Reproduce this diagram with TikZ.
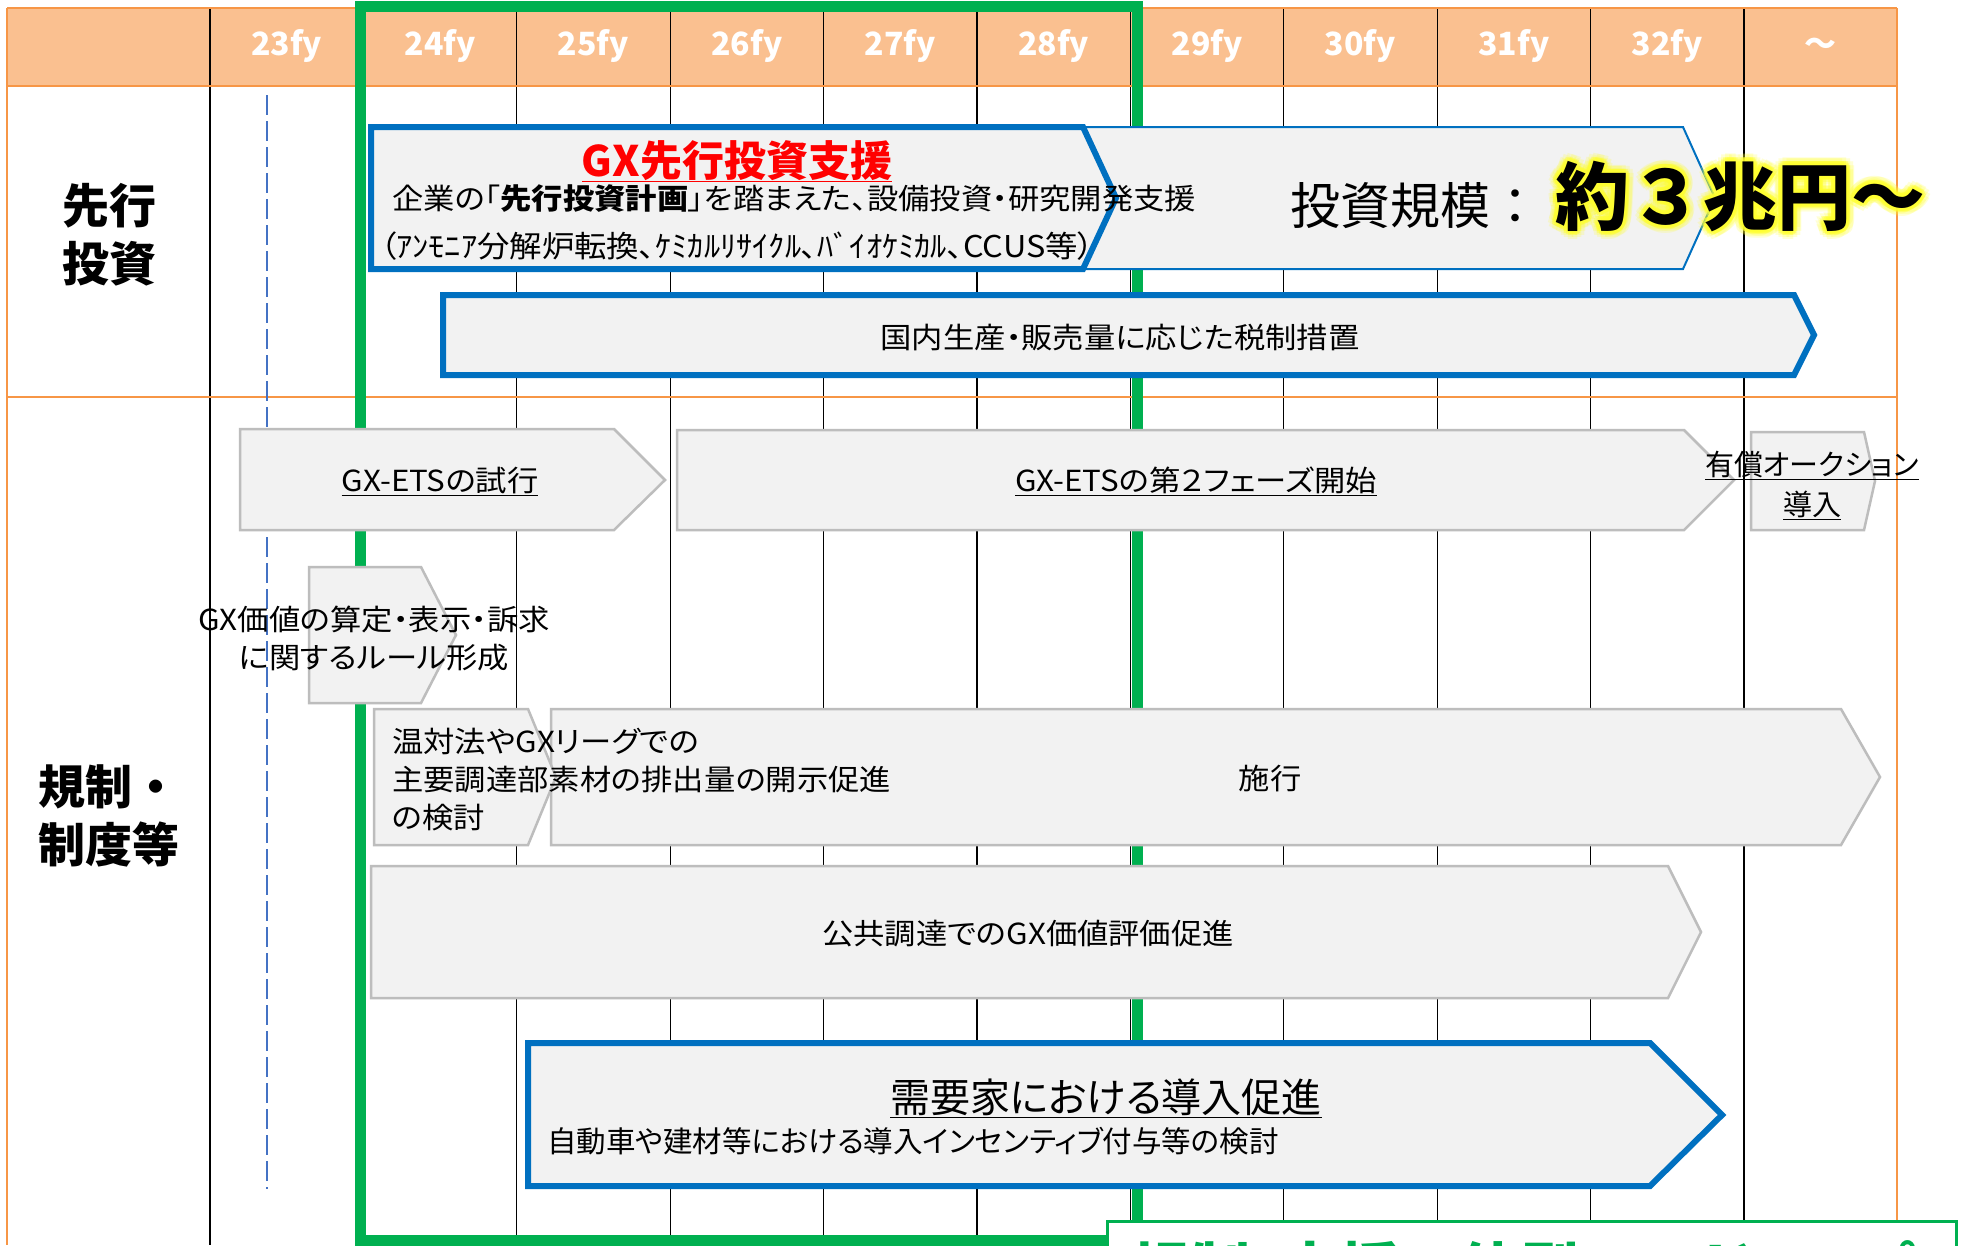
\documentclass[tikz,border=0pt]{standalone}
\usepackage{fontspec}
\setmainfont{Noto Sans CJK JP}[RawFeature=+palt]
\newfontfamily\jpfull{Noto Sans CJK JP}
\newfontfamily\jpwide{Noto Sans CJK JP}[RawFeature=+palt, FakeStretch=1.08]
\newcommand\jpsize[2]{\fontsize{#1}{#2}\selectfont}
\definecolor{headorange}{HTML}{FAC090}
\definecolor{lineorange}{HTML}{F79646}
\definecolor{gxgreen}{HTML}{00B050}
\definecolor{gxblue}{HTML}{0070C0}
\definecolor{dashblue}{HTML}{4472C4}
\definecolor{boxgray}{HTML}{F2F2F2}
\definecolor{edgegray}{HTML}{BDBDBD}
\definecolor{gxred}{HTML}{FF0000}
\definecolor{glowyellow}{HTML}{FFFF30}
\tikzset{
    gridline/.style={black, line width=1.2pt},
    orangeline/.style={lineorange, line width=2pt},
    grayarrow/.style={fill=boxgray, draw=edgegray, line width=2.5pt, line join=miter},
    bluearrow/.style={fill=boxgray, draw=gxblue, line width=6pt, line join=miter},
    thinarrow/.style={fill=boxgray, draw=gxblue, line width=2pt, line join=miter},
    txt/.style={inner sep=0pt, text=black, font=\jpwide\jpsize{29}{38}},
    headtxt/.style={inner sep=0pt, text=white, font=\jpsize{32}{38}\bfseries},
    rowlabel/.style={inner sep=0pt, text=black, font=\jpfull\jpsize{47}{58}\bfseries},
    bigtxt/.style={inner sep=0pt, font=\jpfull\jpsize{74}{80}\bfseries},
}
\begin{document}
\begin{tikzpicture}[x=1pt,y=-1pt]
    \useasboundingbox (0,0) rectangle (1972,1245);
    \fill[white] (0,0) rectangle (1972,1245);
    \fill[headorange] (7,8) rectangle (1897,86);%表头
    \foreach \i in {0,...,10}
        \draw[gridline] ({210+153.4*\i},8) -- ({210+153.4*\i},1245);%年度分隔线
    \draw[orangeline] (7,8) -- (1897,8);
    \draw[orangeline] (7,86) -- (1897,86);
    \draw[orangeline] (7,397) -- (1897,397);
    \draw[orangeline] (7,8) -- (7,1245);
    \draw[orangeline] (1897,8) -- (1897,1245);
    \foreach \lab [count=\i from 0] in {23fy,24fy,25fy,26fy,27fy,28fy,29fy,30fy,31fy,32fy,～}
        \node[headtxt, anchor=base] (fy\i) at ({286.7+153.4*\i},55) {\lab};
    \draw[gxgreen, line width=11pt] (360,6) rectangle (1137,1240);%先行5年
    \draw[dashblue, line width=1.5pt, dash pattern=on 20pt off 6pt] (267,95) -- (267,1189);
    \node[rowlabel, align=center] (senko) at (109,235) {先行\\投資};
    \node[rowlabel, align=left, anchor=west] (kisei) at (38,816) {規制・\\制度等};
    % 先行投資
    \draw[thinarrow] (369,127) -- (1683,127) -- (1715,198) -- (1683,269) -- (369,269) -- cycle;
    \draw[bluearrow] (371,127) -- (1083,127) -- (1116,198) -- (1083,269) -- (371,269) -- cycle;
    \draw[bluearrow] (443,295) -- (1794,295) -- (1814,335) -- (1794,375) -- (443,375) -- cycle;
    \node[txt, anchor=base, text=gxred, font=\jpsize{42}{48}\bfseries] (gxtitle) at (737,176) {\underline{GX先行投資支援}};
    \node[txt, anchor=base] (gxline1) at (794,209) {企業の「\textbf{先行投資計画}」を踏まえた、設備投資・研究開発支援};
    \node[txt, anchor=base, font=\jpwide\jpsize{30}{38}] (gxline2) at (737,257) {（ｱﾝﾓﾆｱ分解炉転換、ｹﾐｶﾙﾘｻｲｸﾙ、ﾊﾞｲｵｹﾐｶﾙ、CCUS等）};
    \node[txt, anchor=base west, font=\jpfull\jpsize{50}{56}] (kibo) at (1290,224) {投資規模：};
    \foreach \a in {0,30,...,330}{
        \node[bigtxt, anchor=base west, text=glowyellow, opacity=.2] at ({1555+8*cos(\a)},{224+8*sin(\a)}) {約３兆円～};
        \node[bigtxt, anchor=base west, text=glowyellow, opacity=.45] at ({1555+4*cos(\a)},{224+4*sin(\a)}) {約３兆円～};
    }%黄色光晕
    \node[bigtxt, anchor=base west, text=black] (sancho) at (1555,224) {約３兆円～};
    \node[txt, anchor=base] (zeisei) at (1120,348) {国内生産・販売量に応じた税制措置};
    % 規制・制度等
    \draw[grayarrow] (240,429) -- (614,429) -- (665,480) -- (614,530) -- (240,530) -- cycle;
    \draw[grayarrow] (677,430) -- (1684,430) -- (1734,480) -- (1684,530) -- (677,530) -- cycle;
    \draw[grayarrow] (1751,432) -- (1864,432) -- (1875,481) -- (1864,530) -- (1751,530) -- cycle;
    \draw[grayarrow] (309,567) -- (421,567) -- (456,635) -- (421,703) -- (309,703) -- cycle;
    \draw[grayarrow] (551,709) -- (1841,709) -- (1880,777) -- (1841,845) -- (551,845) -- cycle;
    \draw[grayarrow] (374,709) -- (528,709) -- (556,777) -- (528,845) -- (374,845) -- cycle;
    \draw[grayarrow] (371,866) -- (1668,866) -- (1701,932) -- (1668,998) -- (371,998) -- cycle;
    \draw[bluearrow] (528,1043) -- (1650,1043) -- (1722,1115) -- (1650,1186) -- (528,1186) -- cycle;
    \node[txt, anchor=base] (etstrial) at (440,491) {\underline{GX-ETSの試行}};
    \node[txt, anchor=base] (etsphase) at (1196,491) {\underline{GX-ETSの第２フェーズ開始}};
    \node[txt, align=center, font=\jpsize{29}{40}] (auction) at (1812,485) {\underline{有償オークション}\\\underline{導入}};
    \node[txt, align=center] (gxvalue) at (374,638) {GX価値の算定・表示・訴求\\に関するルール形成};
    \node[txt, align=left, anchor=west] (ontai) at (392,780) {温対法やGXリーグでの\\主要調達部素材の排出量の開示促進\\の検討};
    \node[txt, anchor=base] (seko) at (1270,789) {施行};
    \node[txt, anchor=base] (kokyo) at (1028,944) {公共調達でのGX価値評価促進};
    \node[txt, anchor=base, font=\jpsize{40}{46}] (juyoka) at (1106,1112) {\underline{需要家における導入促進}};
    \node[txt, anchor=base west, font=\jpsize{29.5}{38}] (jidosha) at (547,1152) {自動車や建材等における導入インセンティブ付与等の検討};
    % 右下总结框
    \draw[gxgreen, fill=white, line width=3pt] (1107,1221) rectangle (1956,1320);
    \node[txt, anchor=base west, text=gxgreen, font=\jpsize{60}{66}\bfseries] (matome) at (1130,1292) {規制・支援一体型ロードマップ};
\end{tikzpicture}
\end{document}
